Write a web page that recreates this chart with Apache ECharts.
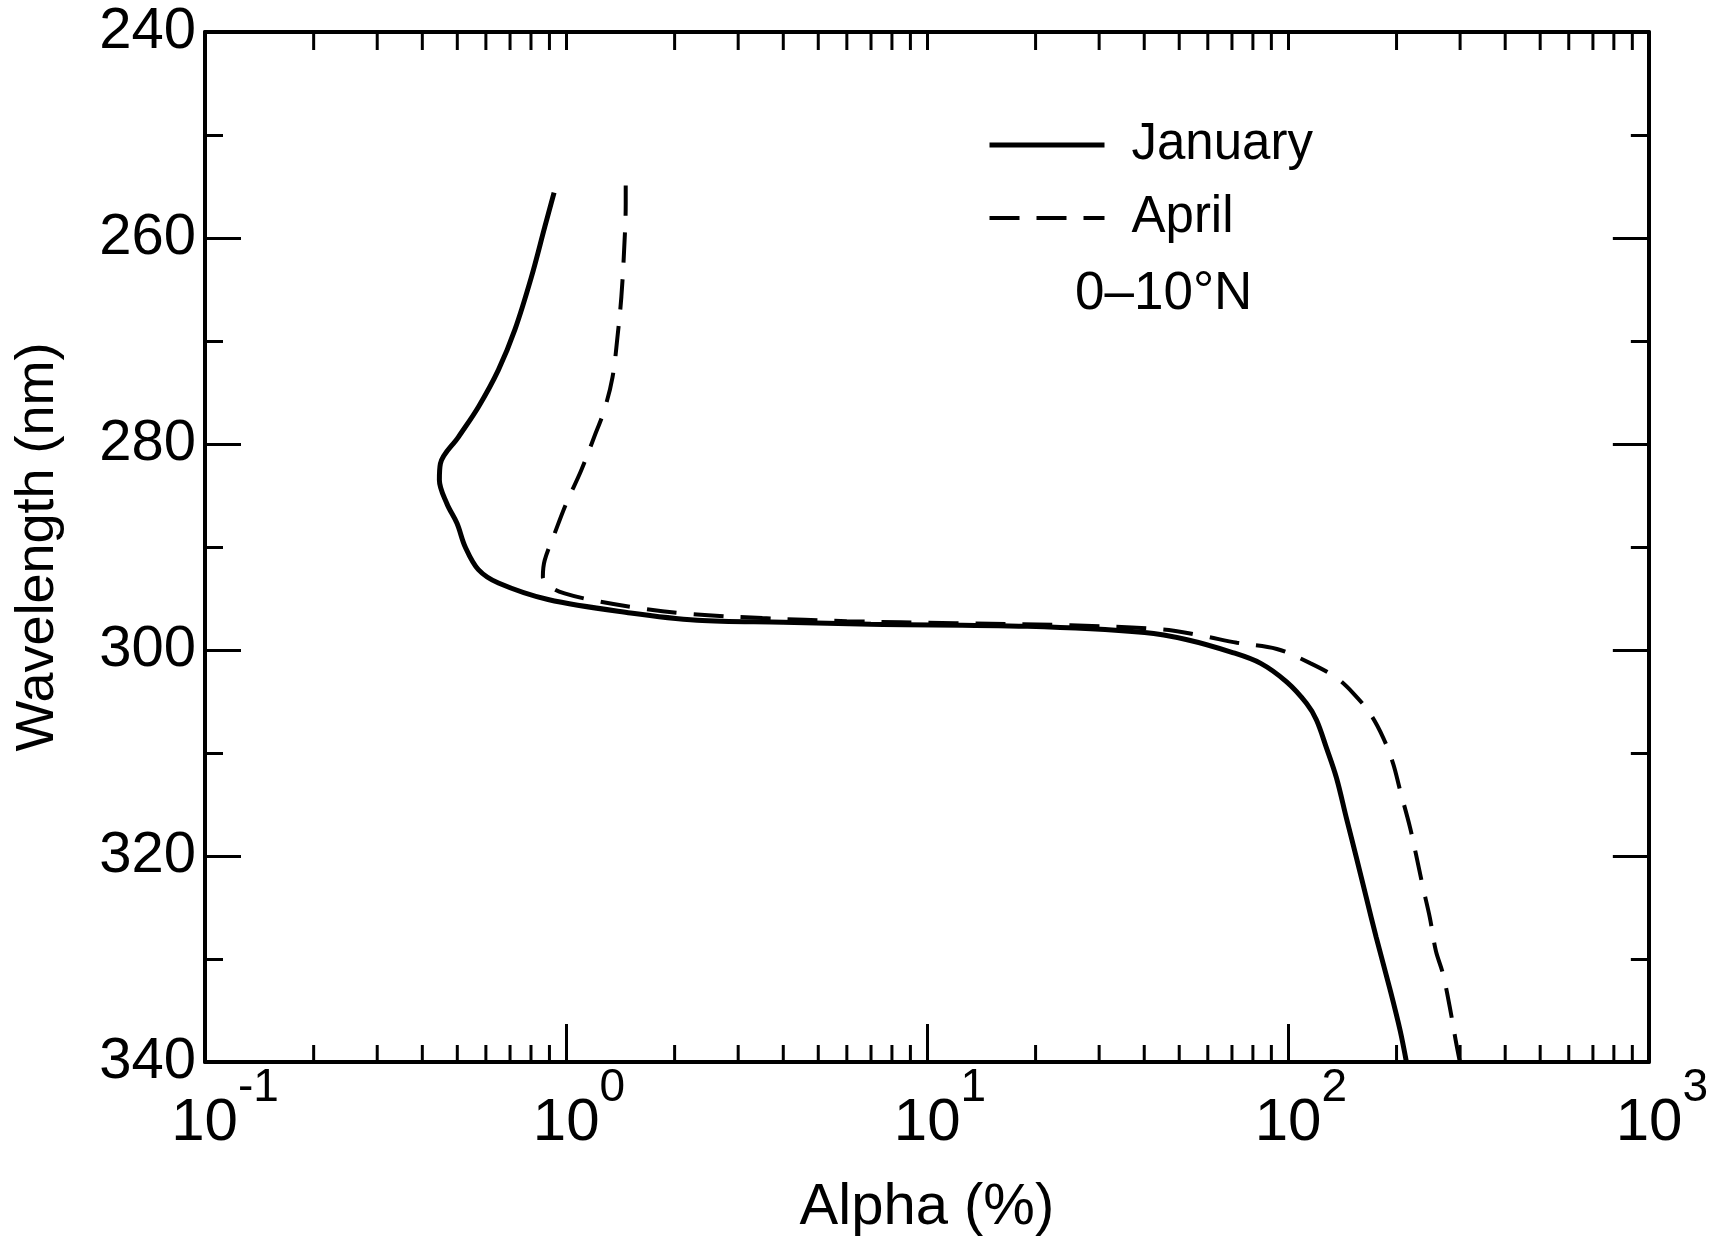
<!DOCTYPE html>
<html>
<head>
<meta charset="utf-8">
<script src="https://cdn.jsdelivr.net/npm/echarts@6/dist/echarts.min.js"></script>
<style>
  html, body { margin: 0; padding: 0; background: #fff; }
  #chart { width: 1711px; height: 1243px; }
</style>
</head>
<body>
<div id="chart"></div>
<script>
// January, 0-10N (solid)
const janAlpha = [0.927, 0.874, 0.802, 0.722, 0.650, 0.572, 0.504, 0.449, 0.446, 0.468, 0.499, 0.526, 0.572, 0.650, 0.892, 1.51, 2.31, 4.0, 7.0, 19.0, 40.1, 52.6, 69.6, 84.1, 99.2, 112.7, 120, 127.9, 136.3, 145.2, 154.7, 164.8, 175.7, 192, 204.5, 213];
const janWave = [255.6, 258.9, 263.8, 268.9, 272.8, 276.4, 279.3, 281.9, 283.5, 285.8, 287.7, 290.0, 292.2, 293.5, 295.1, 296.4, 297.1, 297.3, 297.5, 297.7, 298.3, 299.0, 300.2, 301.3, 303.1, 305.2, 306.8, 309.5, 312.4, 316.3, 320.1, 324.0, 327.9, 333.0, 336.9, 340.0];

// April (dashed)
const aprAlpha = [1.464, 1.464, 1.449, 1.424, 1.389, 1.346, 1.277, 1.198, 1.101, 1.001, 0.930, 0.873, 0.863, 0.910, 0.991, 1.198, 1.646, 2.21, 3.5, 6.0, 12, 25, 45, 57.5, 72.3, 93.2, 115.6, 136.3, 151.8, 169.1, 183.6, 195.6, 204.5, 217.9, 226.3, 236.6, 247.4, 257.0, 268.7, 281, 291.7, 299.2];
const aprWave = [254.9, 256.7, 261.2, 265.7, 269.6, 273.5, 276.7, 279.3, 282.6, 285.8, 288.7, 291.3, 292.9, 293.9, 294.5, 295.2, 296.0, 296.5, 296.9, 297.2, 297.4, 297.6, 298.0, 298.6, 299.3, 299.9, 301.3, 302.7, 304.2, 306.2, 308.5, 311.0, 313.6, 317.2, 319.8, 323.0, 326.0, 329.2, 331.4, 334.7, 337.9, 339.9];

// minor ticks of the log axis (2..9 in each decade)
const xMinorTicks = [0.2, 0.3, 0.4, 0.5, 0.6, 0.7, 0.8, 0.9, 2, 3, 4, 5, 6, 7, 8, 9, 20, 30, 40, 50, 60, 70, 80, 90, 200, 300, 400, 500, 600, 700, 800, 900];

const FONT = 'Liberation Sans';
const chart = echarts.init(document.getElementById('chart'));

function pairs(xs, ys) {
    return xs.map((x, i) => [x, ys[i]]);
}

const xLabel = {
    fontFamily: FONT,
    color: '#000',
    margin: 3,
    showMinLabel: true,
    showMaxLabel: true,
    formatter: function (v) {
        const e = Math.round(Math.log10(v));
        const pad = e < 0 ? 'p2' : 'p1';
        return '{' + pad + '|}{b|10}{s|' + e + '}';
    },
    rich: {
        b: { fontSize: 60, fontFamily: FONT, verticalAlign: 'bottom' },
        s: { fontSize: 46, fontFamily: FONT, verticalAlign: 'bottom', padding: [0, 0, 42, 0] },
        p1: { width: 26 },
        p2: { width: 40 }
    }
};

const option = {
    animation: false,
    backgroundColor: '#fff',
    grid: { left: 205, right: 56, top: 32, bottom: 181, containLabel: false },
    legend: {
        data: [
            { name: 'January', lineStyle: { width: 5 }, itemStyle: { opacity: 0 } },
            { name: 'April', lineStyle: { width: 4 }, itemStyle: { opacity: 0 } }
        ],
        orient: 'vertical',
        left: 982,
        top: 112,
        itemWidth: 115,
        itemHeight: 14,
        itemGap: 17,
        textStyle: { fontFamily: FONT, fontSize: 51, color: '#000', lineHeight: 56, padding: [0, 0, 0, 22] }
    },
    graphic: [{
        type: 'text',
        left: 1075,
        top: 268,
        style: { text: '0–10°N', font: '53px "Liberation Sans"', fill: '#000' }
    }],
    xAxis: [{
        type: 'log',
        logBase: 10,
        min: 0.1,
        max: 1000,
        position: 'bottom',
        name: 'Alpha (%)',
        nameLocation: 'middle',
        nameGap: 117,
        nameTextStyle: { fontFamily: FONT, fontSize: 58, color: '#000' },
        axisLine: { lineStyle: { color: '#000', width: 4 } },
        axisTick: { inside: true, length: 38, lineStyle: { color: '#000', width: 3 } },
        axisLabel: xLabel,
        splitLine: { show: false }
    }, {
        type: 'log',
        logBase: 10,
        min: 0.1,
        max: 1000,
        position: 'top',
        axisLine: { lineStyle: { color: '#000', width: 4 } },
        axisTick: { inside: true, length: 18, lineStyle: { color: '#000', width: 3 } },
        axisLabel: { show: false },
        splitLine: { show: false }
    }],
    yAxis: [{
        type: 'value',
        inverse: true,
        min: 240,
        max: 340,
        interval: 20,
        position: 'left',
        name: 'Wavelength (nm)',
        nameLocation: 'middle',
        nameGap: 140,
        nameTextStyle: { fontFamily: FONT, fontSize: 54, color: '#000' },
        axisLine: { lineStyle: { color: '#000', width: 4 } },
        axisTick: { inside: true, length: 36, lineStyle: { color: '#000', width: 3 } },
        minorTick: { show: true, splitNumber: 2, length: 18, lineStyle: { color: '#000', width: 3 } },
        axisLabel: { fontFamily: FONT, fontSize: 58, color: '#000', margin: 9 },
        splitLine: { show: false }
    }, {
        type: 'value',
        inverse: true,
        min: 240,
        max: 340,
        interval: 20,
        position: 'right',
        axisLine: { lineStyle: { color: '#000', width: 4 } },
        axisTick: { inside: true, length: 36, lineStyle: { color: '#000', width: 3 } },
        minorTick: { show: true, splitNumber: 2, length: 18, lineStyle: { color: '#000', width: 3 } },
        axisLabel: { show: false },
        splitLine: { show: false }
    }],
    series: [
        {
            name: 'April',
            type: 'line',
            data: pairs(aprAlpha, aprWave),
            symbol: 'none',
            smooth: 0.35,
            lineStyle: { color: '#000', width: 4, type: [30, 17] },
            itemStyle: { color: '#000' }
        },
        {
            name: 'January',
            type: 'line',
            data: pairs(janAlpha, janWave),
            symbol: 'none',
            smooth: 0.35,
            lineStyle: { color: '#000', width: 5, type: 'solid' },
            itemStyle: { color: '#000' }
        },
        {
            // minor ticks of the log axis, bottom and top
            type: 'custom',
            silent: true,
            clip: false,
            data: xMinorTicks.map(v => [v, 340]),
            encode: { x: 0, y: 1 },
            renderItem: function (params, api) {
                const v = api.value(0);
                const b = api.coord([v, 340]);
                const t = api.coord([v, 240]);
                return {
                    type: 'group',
                    children: [
                        { type: 'line', shape: { x1: b[0], y1: b[1], x2: b[0], y2: b[1] - 17 }, style: { stroke: '#000', lineWidth: 3 } },
                        { type: 'line', shape: { x1: t[0], y1: t[1], x2: t[0], y2: t[1] + 18 }, style: { stroke: '#000', lineWidth: 3 } }
                    ]
                };
            }
        }
    ]
};

chart.setOption(option);
</script>
</body>
</html>
